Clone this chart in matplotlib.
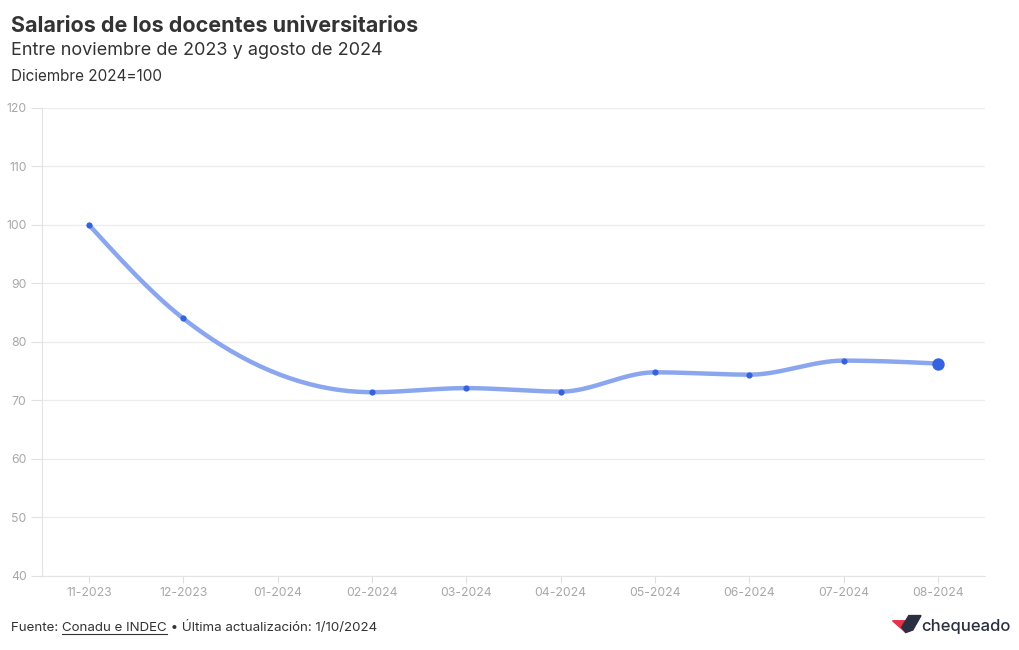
import matplotlib
matplotlib.use("Agg")
import matplotlib.pyplot as plt
from matplotlib.patches import Polygon
import numpy as np

FONT = "Inter"
plt.rcParams["font.family"] = [FONT, "DejaVu Sans"]

months = ["11-2023", "12-2023", "01-2024", "02-2024", "03-2024",
          "04-2024", "05-2024", "06-2024", "07-2024", "08-2024"]
salary_index = [100.0, 84.0, None, 71.4, 72.1, 71.5, 74.8, 74.4, 76.8, 76.3]
y_ticks = [40, 50, 60, 70, 80, 90, 100, 110, 120]

LINE_COLOR = "#8aa6ee"
DOT_COLOR = "#3563e0"
TICK_COLOR = "#a8a8a8"
GRID_COLOR = "#ececec"
TEXT_COLOR = "#333333"


def monotone_curve(xs, ys, n=40):
    # monotone cubic hermite, like d3.curveMonotoneX
    xs = np.asarray(xs, float)
    ys = np.asarray(ys, float)
    h = np.diff(xs)
    d = np.diff(ys) / h
    m = np.zeros(len(xs))
    for i in range(1, len(xs) - 1):
        if d[i - 1] * d[i] > 0:
            p = (d[i - 1] * h[i] + d[i] * h[i - 1]) / (h[i - 1] + h[i])
            m[i] = np.sign(d[i - 1]) * min(2 * abs(d[i - 1]), 2 * abs(d[i]), abs(p))
    m[0] = (3 * d[0] - m[1]) / 2
    m[-1] = (3 * d[-1] - m[-2]) / 2
    out_x, out_y = [], []
    for i in range(len(xs) - 1):
        t = np.linspace(0, 1, n)
        h00 = 2 * t**3 - 3 * t**2 + 1
        h10 = t**3 - 2 * t**2 + t
        h01 = -2 * t**3 + 3 * t**2
        h11 = t**3 - t**2
        out_x.extend(xs[i] + t * h[i])
        out_y.extend(h00 * ys[i] + h10 * h[i] * m[i] + h01 * ys[i + 1] + h11 * h[i] * m[i + 1])
    return np.array(out_x), np.array(out_y)


fig = plt.figure(figsize=(10.2, 6.5), dpi=100)
ax = fig.add_axes([0.041, 0.114, 0.925, 0.72])

pos = [i for i, v in enumerate(salary_index) if v is not None]
vals = [v for v in salary_index if v is not None]
cx, cy = monotone_curve(pos, vals)
ax.plot(cx, cy, color=LINE_COLOR, lw=3.2, solid_capstyle="round", zorder=3)
ax.scatter(pos[:-1], vals[:-1], s=20, color=DOT_COLOR, zorder=4, linewidths=0)
ax.scatter(pos[-1:], vals[-1:], s=80, color=DOT_COLOR, zorder=4, linewidths=0)

ax.set_xlim(-0.5, len(months) - 0.5)
ax.set_ylim(40, 120)
ax.set_xticks(range(len(months)))
ax.set_xticklabels(months)
ax.set_yticks(y_ticks)
ax.yaxis.grid(True, color=GRID_COLOR, lw=0.9)
ax.set_axisbelow(True)
for side in ["top", "right"]:
    ax.spines[side].set_visible(False)
ax.spines["left"].set_color("#e4e4e4")
ax.spines["bottom"].set_color("#e4e4e4")
ax.tick_params(axis="both", colors="#e0e0e0", labelcolor=TICK_COLOR, labelsize=8.8, length=5, width=0.8)
ax.tick_params(axis="x", pad=3)
ax.tick_params(axis="y", pad=3, length=8)

fig.text(0.011, 0.951, "Salarios de los docentes universitarios", fontsize=15.5,
         fontweight="bold", color=TEXT_COLOR, va="baseline")
fig.text(0.011, 0.916, "Entre noviembre de 2023 y agosto de 2024", fontsize=13,
         color=TEXT_COLOR, va="baseline")
fig.text(0.011, 0.875, "Diciembre 2024=100", fontsize=11, color=TEXT_COLOR, va="baseline")

# footer with underlined source
renderer = fig.canvas.get_renderer()
fy = 0.029
FOOT = 9.6
t1 = fig.text(0.011, fy, "Fuente: ", fontsize=FOOT, color=TEXT_COLOR, va="baseline")
bb = t1.get_window_extent(renderer).transformed(fig.transFigure.inverted())
t2 = fig.text(bb.x1, fy, "Conadu e INDEC", fontsize=FOOT, color=TEXT_COLOR, va="baseline")
bb2 = t2.get_window_extent(renderer).transformed(fig.transFigure.inverted())
fig.add_artist(plt.Line2D([bb2.x0, bb2.x1], [fy - 0.004, fy - 0.004], color=TEXT_COLOR,
                          lw=0.8, transform=fig.transFigure))
fig.text(bb2.x1, fy, " \u2022 \u00daltima actualizaci\u00f3n: 1/10/2024", fontsize=FOOT,
         color=TEXT_COLOR, va="baseline")

# chequeado logo
red = Polygon([[0.875, 0.045], [0.889, 0.045], [0.895, 0.031], [0.888, 0.027]],
              closed=True, transform=fig.transFigure, color="#e5344a")
dark = Polygon([[0.888, 0.027], [0.895, 0.031], [0.903, 0.053], [0.891, 0.053], [0.884, 0.035]],
               closed=True, transform=fig.transFigure, color="#2a3042")
fig.add_artist(red)
fig.add_artist(dark)
fig.text(0.903, 0.029, "chequeado", fontsize=12, color="#2a3042", fontweight="medium",
         va="baseline")

fig.savefig("out.png", dpi=100)
